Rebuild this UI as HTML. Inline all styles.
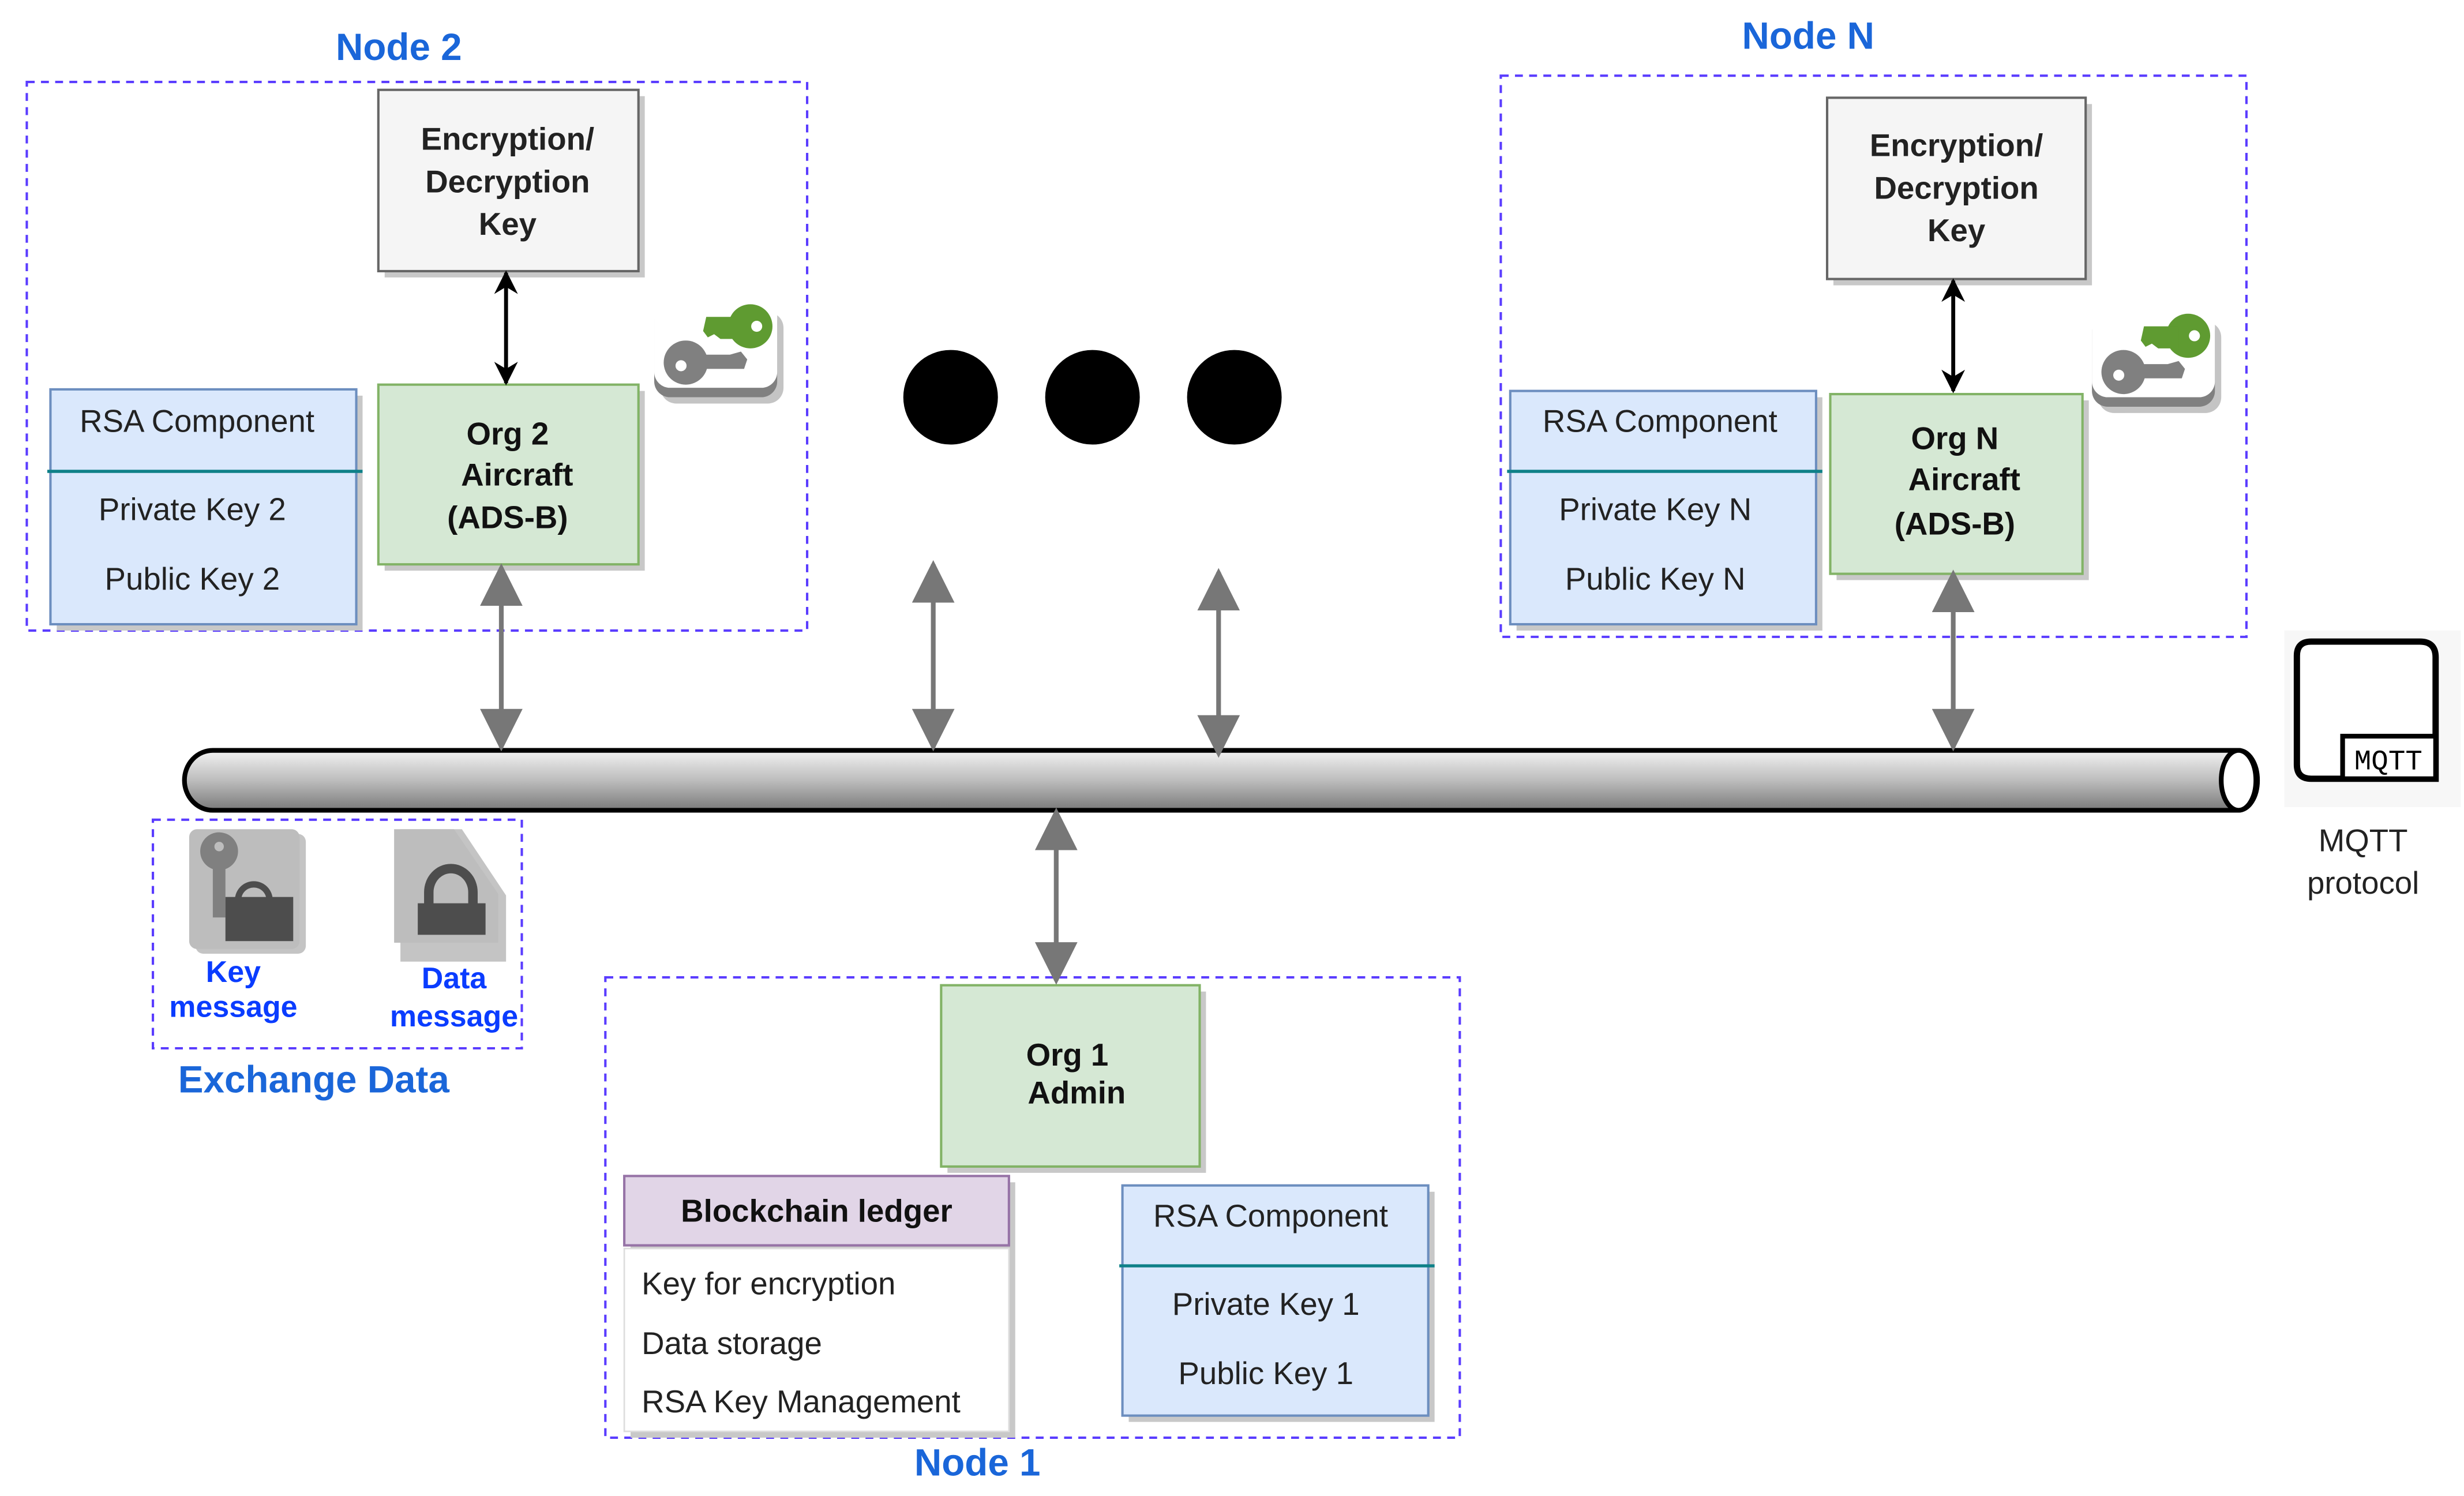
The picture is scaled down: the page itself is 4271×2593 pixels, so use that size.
<!DOCTYPE html>
<html><head><meta charset="utf-8"><style>html,body{margin:0;padding:0;background:#fff}svg{display:block}</style></head>
<body>
<svg xmlns="http://www.w3.org/2000/svg" width="4271" height="2593" viewBox="0 0 1563 949" preserveAspectRatio="none" font-family="Liberation Sans, Arial, sans-serif">
<defs>
<linearGradient id="cyl" x1="0" y1="0" x2="0" y2="1">
<stop offset="0" stop-color="#f2f2f2"/><stop offset="0.5" stop-color="#bdbdbd"/><stop offset="1" stop-color="#7a7a7a"/>
</linearGradient>
<marker id="ga" viewBox="0 0 10 10" refX="9" refY="5" markerWidth="9" markerHeight="9" orient="auto-start-reverse"><path d="M0,0 L10,5 L0,10 z" fill="#777"/></marker>
<marker id="ba" viewBox="0 0 10 10" refX="9" refY="5" markerWidth="6" markerHeight="6" orient="auto-start-reverse"><path d="M0,0 L10,5 L0,10 L3,5 z" fill="#000"/></marker>
</defs>
<rect width="1563" height="949" fill="#fff"/>

<g fill="none" stroke="#5a3cff" stroke-width="1.5" stroke-dasharray="5,4">
<rect x="17" y="52" width="495" height="348"/>
<rect x="952" y="48" width="473" height="356"/>
<rect x="97" y="520" width="234" height="145"/>
<rect x="384" y="620" width="542" height="292"/>
</g>
<g fill="#1a66d9" font-weight="bold" font-size="24" text-anchor="middle">
<text x="253" y="38">Node 2</text>
<text x="1147" y="31">Node N</text>
<text x="620" y="936">Node 1</text>
<text x="199" y="693" font-size="24">Exchange Data</text>
</g>

<g fill="#c8c8c8">
<rect x="244" y="61" width="165" height="115"/>
<rect x="1163" y="66" width="164" height="115"/>
<rect x="244" y="248" width="165" height="114"/>
<rect x="1165" y="254" width="160" height="114"/>
<rect x="36" y="251" width="194" height="149"/>
<rect x="962" y="252" width="194" height="148"/>
<rect x="601" y="629" width="164" height="115"/>
<rect x="400" y="750" width="244" height="162"/>
<rect x="716" y="756" width="194" height="146"/>
</g>

<g fill="#f5f5f5" stroke="#666" stroke-width="1.5">
<rect x="240" y="57" width="165" height="115"/>
<rect x="1159" y="62" width="164" height="115"/>
</g>
<g font-weight="bold" font-size="20" text-anchor="middle" fill="#222">
<text x="322" y="95">Encryption/</text><text x="322" y="122">Decryption</text><text x="322" y="149">Key</text>
<text x="1241" y="99">Encryption/</text><text x="1241" y="126">Decryption</text><text x="1241" y="153">Key</text>
</g>

<g fill="#d5e8d4" stroke="#82b366" stroke-width="1.5">
<rect x="240" y="244" width="165" height="114"/>
<rect x="1161" y="250" width="160" height="114"/>
<rect x="597" y="625" width="164" height="115"/>
</g>
<g font-weight="bold" font-size="20" text-anchor="middle" fill="#111">
<text x="322" y="282">Org 2</text><text x="328" y="308">Aircraft</text><text x="322" y="335">(ADS-B)</text>
<text x="1240" y="285">Org N</text><text x="1246" y="311">Aircraft</text><text x="1240" y="339">(ADS-B)</text>
<text x="677" y="676">Org 1</text><text x="683" y="700">Admin</text>
</g>

<g fill="#dae8fc" stroke="#6c8ebf" stroke-width="1.5">
<rect x="32" y="247" width="194" height="149"/>
<rect x="958" y="248" width="194" height="148"/>
<rect x="712" y="752" width="194" height="146"/>
</g>
<g stroke="#0e8088" stroke-width="2">
<line x1="30" y1="299" x2="230" y2="299"/>
<line x1="956" y1="299" x2="1156" y2="299"/>
<line x1="710" y1="803" x2="910" y2="803"/>
</g>
<g font-size="20" fill="#222" text-anchor="middle">
<text x="125" y="274">RSA Component</text><text x="122" y="330">Private Key 2</text><text x="122" y="374">Public Key 2</text>
<text x="1053" y="274">RSA Component</text><text x="1050" y="330">Private Key N</text><text x="1050" y="374">Public Key N</text>
<text x="806" y="778">RSA Component</text><text x="803" y="834">Private Key 1</text><text x="803" y="878">Public Key 1</text>
</g>

<rect x="396" y="746" width="244" height="44" fill="#e1d5e7" stroke="#9673a6" stroke-width="1.5"/>
<rect x="396" y="792" width="244" height="116" fill="#fff" stroke="#ddd" stroke-width="1"/>
<text x="518" y="775" font-weight="bold" font-size="20" text-anchor="middle" fill="#111">Blockchain ledger</text>
<g font-size="20" fill="#222">
<text x="407" y="821">Key for encryption</text>
<text x="407" y="859">Data storage</text>
<text x="407" y="896">RSA Key Management</text>
</g>

<g stroke="#000" stroke-width="2.5" marker-start="url(#ba)" marker-end="url(#ba)">
<line x1="321" y1="173" x2="321" y2="243"/>
<line x1="1239" y1="178" x2="1239" y2="248"/>
</g>

<path d="M135,476 L1420,476 A12,19 0 0 1 1420,514 L135,514 A18,19 0 0 1 135,476 z" fill="url(#cyl)" stroke="#000" stroke-width="3"/>
<ellipse cx="1420" cy="495" rx="11" ry="19" fill="#fff" stroke="#000" stroke-width="3"/>

<g stroke="#777" stroke-width="3" marker-start="url(#ga)" marker-end="url(#ga)">
<line x1="318" y1="360" x2="318" y2="474"/>
<line x1="592" y1="358" x2="592" y2="474"/>
<line x1="773" y1="363" x2="773" y2="478"/>
<line x1="1239" y1="364" x2="1239" y2="474"/>
<line x1="670" y1="515" x2="670" y2="622"/>
</g>

<g fill="#000"><circle cx="603" cy="252" r="30"/><circle cx="693" cy="252" r="30"/><circle cx="783" cy="252" r="30"/></g>

<g transform="translate(415,190)">
<rect x="4" y="8" width="78" height="58" rx="10" fill="#c4c4c4"/>
<rect x="0" y="4" width="78" height="58" rx="10" fill="#808080"/>
<rect x="0" y="0" width="78" height="56" rx="10" fill="#fff"/>
<circle cx="61" cy="17" r="14" fill="#5f9b31"/><circle cx="65" cy="17" r="3.5" fill="#fff"/>
<path d="M33,11 L55,11 L55,25 L42,25 L38,22 L34,24 L31,20 z" fill="#5f9b31"/>
<circle cx="20" cy="40" r="14" fill="#808080"/><circle cx="17" cy="42" r="3.5" fill="#fff"/>
<path d="M28,35 L48,35 L55,33 L59,38 L57,44 L30,44 z" fill="#808080"/>
</g>
<g transform="translate(1327,196)">
<rect x="4" y="8" width="78" height="58" rx="10" fill="#c4c4c4"/>
<rect x="0" y="4" width="78" height="58" rx="10" fill="#808080"/>
<rect x="0" y="0" width="78" height="56" rx="10" fill="#fff"/>
<circle cx="61" cy="17" r="14" fill="#5f9b31"/><circle cx="65" cy="17" r="3.5" fill="#fff"/>
<path d="M33,11 L55,11 L55,25 L42,25 L38,22 L34,24 L31,20 z" fill="#5f9b31"/>
<circle cx="20" cy="40" r="14" fill="#808080"/><circle cx="17" cy="42" r="3.5" fill="#fff"/>
<path d="M28,35 L48,35 L55,33 L59,38 L57,44 L30,44 z" fill="#808080"/>
</g>

<rect x="124" y="529" width="70" height="76" rx="5" fill="#c4c4c4"/>
<rect x="120" y="526" width="70" height="76" rx="5" fill="#bdbdbd"/>
<circle cx="139" cy="540" r="12" fill="#808080"/><circle cx="139" cy="537" r="3" fill="#bdbdbd"/>
<rect x="135" y="548" width="8" height="34" fill="#808080"/>
<path d="M149,571 a12,12 0 0 1 24,0 v6 h-4 v-6 a8,8 0 0 0 -16,0 v6 h-4 z" fill="#4d4d4d"/>
<rect x="143" y="569" width="43" height="28" fill="#4d4d4d"/>
<path d="M254,526 L293,526 L321,568 L321,610 L254,610 z" fill="#c4c4c4"/>
<path d="M250,526 L288,526 L316,567 L316,598 L250,598 z" fill="#bdbdbd"/>
<path d="M269,566 a17,18 0 0 1 34,0 v8 h-6 v-8 a11,12 0 0 0 -22,0 v8 h-6 z" fill="#4d4d4d"/>
<rect x="265" y="573" width="43" height="20" fill="#4d4d4d"/>
<g fill="#0a3cff" font-weight="bold" font-size="19" text-anchor="middle">
<text x="148" y="623">Key</text><text x="148" y="645">message</text>
<text x="288" y="627">Data</text><text x="288" y="651">message</text>
</g>

<rect x="1449" y="400" width="112" height="112" fill="#f7f7f7"/>
<path d="M1466,407 L1535,407 Q1545,407 1545,417 L1545,494 L1466,494 Q1457,494 1457,485 L1457,416 Q1457,407 1466,407 z" fill="#fff" stroke="#000" stroke-width="4"/>
<rect x="1486" y="467" width="59" height="27" fill="#fff" stroke="#000" stroke-width="3"/>
<text x="1515" y="488" font-size="18" text-anchor="middle" fill="#000" font-family="Liberation Mono, monospace">MQTT</text>
<g font-size="20" fill="#222" text-anchor="middle"><text x="1499" y="540">MQTT</text><text x="1499" y="567">protocol</text></g>
</svg>
</body></html>
